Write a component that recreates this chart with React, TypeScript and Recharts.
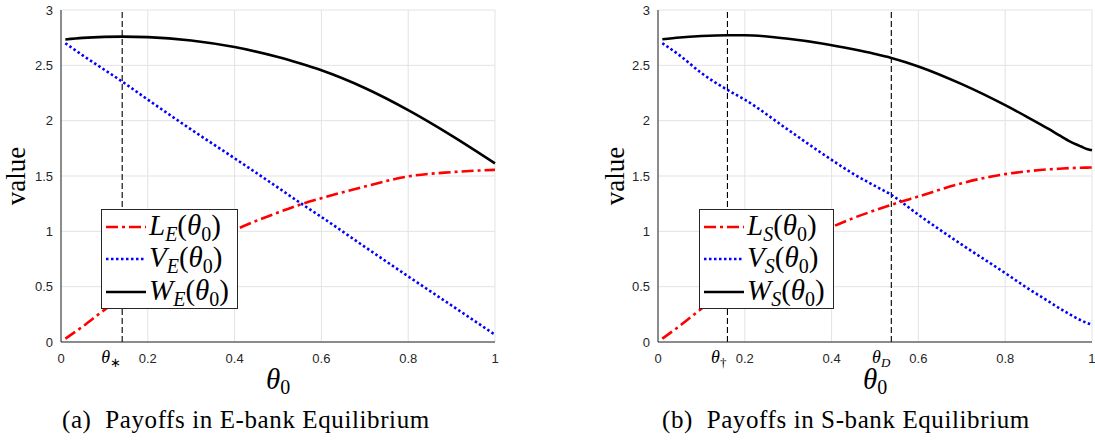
import React from 'react';
import { LineChart, Line, XAxis, YAxis, CartesianGrid, ReferenceLine, Legend } from 'recharts';

// panel (a): E-bank equilibrium
const thetaE = [0.01, 0.05, 0.1, 0.141, 0.2, 0.3, 0.4, 0.5, 0.55, 0.6, 0.7, 0.8, 0.9, 1.0];
const lE = [0.03, 0.14, 0.29, 0.4, 0.55, 0.79, 1.01, 1.17, 1.24, 1.3, 1.405, 1.496, 1.535, 1.556];
const vE = [2.7, 2.59, 2.46, 2.353, 2.19, 1.92, 1.66, 1.395, 1.26, 1.13, 0.86, 0.593, 0.33, 0.066];
const wE = [2.733, 2.748, 2.757, 2.759, 2.755, 2.725, 2.665, 2.575, 2.518, 2.455, 2.295, 2.095, 1.865, 1.614];

// panel (b): S-bank equilibrium
const thetaS = [0.01, 0.05, 0.1, 0.16, 0.2, 0.3, 0.374, 0.45, 0.5, 0.5376, 0.6, 0.7, 0.8, 0.85, 0.9, 0.925, 0.95, 0.975, 0.99, 1.0];
const lS = [0.03, 0.145, 0.3, 0.47, 0.59, 0.84, 0.99, 1.12, 1.19, 1.24, 1.315, 1.435, 1.517, 1.542, 1.56, 1.566, 1.572, 1.575, 1.576, 1.577];
const vS = [2.7, 2.59, 2.43, 2.278, 2.19, 1.917, 1.715, 1.52, 1.41, 1.33, 1.15, 0.88, 0.623, 0.49, 0.367, 0.305, 0.247, 0.195, 0.17, 0.156];
const wS = [2.735, 2.752, 2.765, 2.772, 2.772, 2.74, 2.7, 2.645, 2.603, 2.567, 2.49, 2.33, 2.14, 2.035, 1.925, 1.866, 1.81, 1.766, 1.742, 1.732];

const xTicks = [0, 0.2, 0.4, 0.6, 0.8, 1];
const yTicks = [0, 0.5, 1, 1.5, 2, 2.5, 3];

const SERIF = '"Liberation Serif", "Times New Roman", serif';
const SANS = '"Liberation Sans", Arial, sans-serif';
const AXIS = '#262626';

const toRows = (xs: number[], l: number[], v: number[], w: number[]) =>
    xs.map((x, i) => ({ x, l: l[i], v: v[i], w: w[i] }));

const thetaMark = (sub: string, italicSub: boolean) => (props: any) => {
    const { viewBox } = props;
    return (
        <text x={viewBox.x - 1} y={viewBox.y + viewBox.height + 21} textAnchor="end"
              fontFamily={SERIF} fontSize={18} fill="#000">
            <tspan fontStyle="italic">θ</tspan>
            <tspan fontSize={13} dy={4} fontStyle={italicSub ? 'italic' : 'normal'}>{sub}</tspan>
        </text>
    );
};

const xLabel = (props: any) => {
    const { viewBox } = props;
    return (
        <text x={viewBox.x + viewBox.width / 2} y={viewBox.y + 47} textAnchor="middle"
              fontFamily={SERIF} fontSize={29} fill="#000">
            <tspan fontStyle="italic">θ</tspan>
            <tspan fontSize={20} dy={5}>0</tspan>
        </text>
    );
};

const yLabel = (shift: number) => (props: any) => {
    const { viewBox } = props;
    const cx = viewBox.x + shift;
    const cy = viewBox.y + viewBox.height / 2;
    return (
        <text x={cx} y={cy} textAnchor="middle" dominantBaseline="central" fontFamily={SERIF}
              fontSize={27} fill="#000" transform={`rotate(-90, ${cx}, ${cy})`}>
            value
        </text>
    );
};

const MathName = ({ letter, sub }: { letter: string, sub: string }) => (
    <>
        <tspan fontStyle="italic">{letter}</tspan>
        <tspan fontStyle="italic" fontSize={20} dy={6}>{sub}</tspan>
        <tspan dy={-6}>(</tspan>
        <tspan fontStyle="italic">θ</tspan>
        <tspan fontSize={20} dy={6}>0</tspan>
        <tspan dy={-6}>)</tspan>
    </>
);

const LegendBox = ({ sub, w }: { sub: string, w: number }) => {
    const rows = [
        { letter: 'L', color: '#ff0000', dash: '12 4 3 4', y: 18 },
        { letter: 'V', color: '#0000ff', dash: '2.5 2.5', y: 50 },
        { letter: 'W', color: '#000000', dash: undefined, y: 83 },
    ];
    return (
        <svg width={w} height={100} style={{ display: 'block', overflow: 'visible' }}>
            <rect x={0.5} y={0.5} width={w - 1} height={99} fill="#fff" stroke={AXIS} strokeWidth={1} />
            {rows.map(r => (
                <g key={r.letter}>
                    <line x1={5} x2={45} y1={r.y} y2={r.y} stroke={r.color} strokeWidth={2.6} strokeDasharray={r.dash} />
                    <text x={48} y={r.y + 8} fontFamily={SERIF} fontSize={29} fill="#000">
                        <MathName letter={r.letter} sub={sub} />
                    </text>
                </g>
            ))}
        </svg>
    );
};

type PanelProps = {
    rows: { x: number, l: number, v: number, w: number }[]
    marks: { x: number, sub: string, italicSub: boolean }[]
    sub: string
    width: number
    marginLeft: number
    marginRight: number
    legendLeft: number
    legendWidth: number
    labelShift: number
}

const Panel = ({ rows, marks, sub, width, marginLeft, marginRight, legendLeft, legendWidth, labelShift }: PanelProps) => (
    <LineChart width={width} height={441} data={rows}
               margin={{ top: 10, right: marginRight, bottom: 69, left: marginLeft }}>
        <CartesianGrid stroke="#e3e3e3" strokeWidth={1} />
        <XAxis dataKey="x" type="number" domain={[0, 1]} ticks={xTicks} height={30}
               stroke={AXIS} tickLine={false} tickMargin={6}
               tick={{ fill: AXIS, fontSize: 13, fontFamily: SANS }} label={xLabel} />
        <YAxis type="number" domain={[0, 3]} ticks={yTicks} width={30}
               stroke={AXIS} tickLine={false} tickMargin={2}
               tick={{ fill: AXIS, fontSize: 13, fontFamily: SANS }} label={yLabel(labelShift)} />
        {marks.map(m => (
            <ReferenceLine key={m.sub} x={m.x} stroke="#000" strokeWidth={1.1} strokeDasharray="6 3"
                           label={thetaMark(m.sub, m.italicSub)} />
        ))}
        <Line type="monotone" dataKey="w" stroke="#000" strokeWidth={2.6} dot={false} isAnimationActive={false} />
        <Line type="monotone" dataKey="v" stroke="#0000ff" strokeWidth={2.6} strokeDasharray="2.5 2.5" dot={false} isAnimationActive={false} />
        <Line type="monotone" dataKey="l" stroke="#ff0000" strokeWidth={2.6} strokeDasharray="12 4 3 4" dot={false} isAnimationActive={false} />
        <Legend layout="horizontal" verticalAlign="middle" align="center" width={legendWidth} height={100}
                wrapperStyle={{ left: legendLeft, top: 209, width: legendWidth, height: 100 }}
                content={() => <LegendBox sub={sub} w={legendWidth} />} />
    </LineChart>
);

const captionStyle: React.CSSProperties = {
    position: 'absolute', top: 406, fontFamily: SERIF, fontSize: 25, letterSpacing: 0.6,
    whiteSpace: 'nowrap', color: '#000',
};

export default function App() {
    return (
        <div style={{ position: 'absolute', left: 0, top: 0, width: 1095, height: 441, background: '#fff', overflow: 'hidden' }}>
            <div style={{ position: 'absolute', left: 0, top: 0 }}>
                <Panel rows={toRows(thetaE, lE, vE, wE)} marks={[{ x: 0.141, sub: '∗', italicSub: false }]}
                       sub="E" width={530} marginLeft={31} marginRight={35}
                       legendLeft={101} legendWidth={137} labelShift={-15} />
            </div>
            <div style={{ position: 'absolute', left: 560, top: 0 }}>
                <Panel rows={toRows(thetaS, lS, vS, wS)}
                       marks={[{ x: 0.16, sub: '†', italicSub: false }, { x: 0.5376, sub: 'D', italicSub: true }]}
                       sub="S" width={535} marginLeft={68} marginRight={3}
                       legendLeft={139} legendWidth={135} labelShift={-13} />
            </div>
            <div style={{ ...captionStyle, left: 62 }}>(a)&nbsp; Payoffs in E-bank Equilibrium</div>
            <div style={{ ...captionStyle, left: 662 }}>(b)&nbsp; Payoffs in S-bank Equilibrium</div>
        </div>
    );
}
